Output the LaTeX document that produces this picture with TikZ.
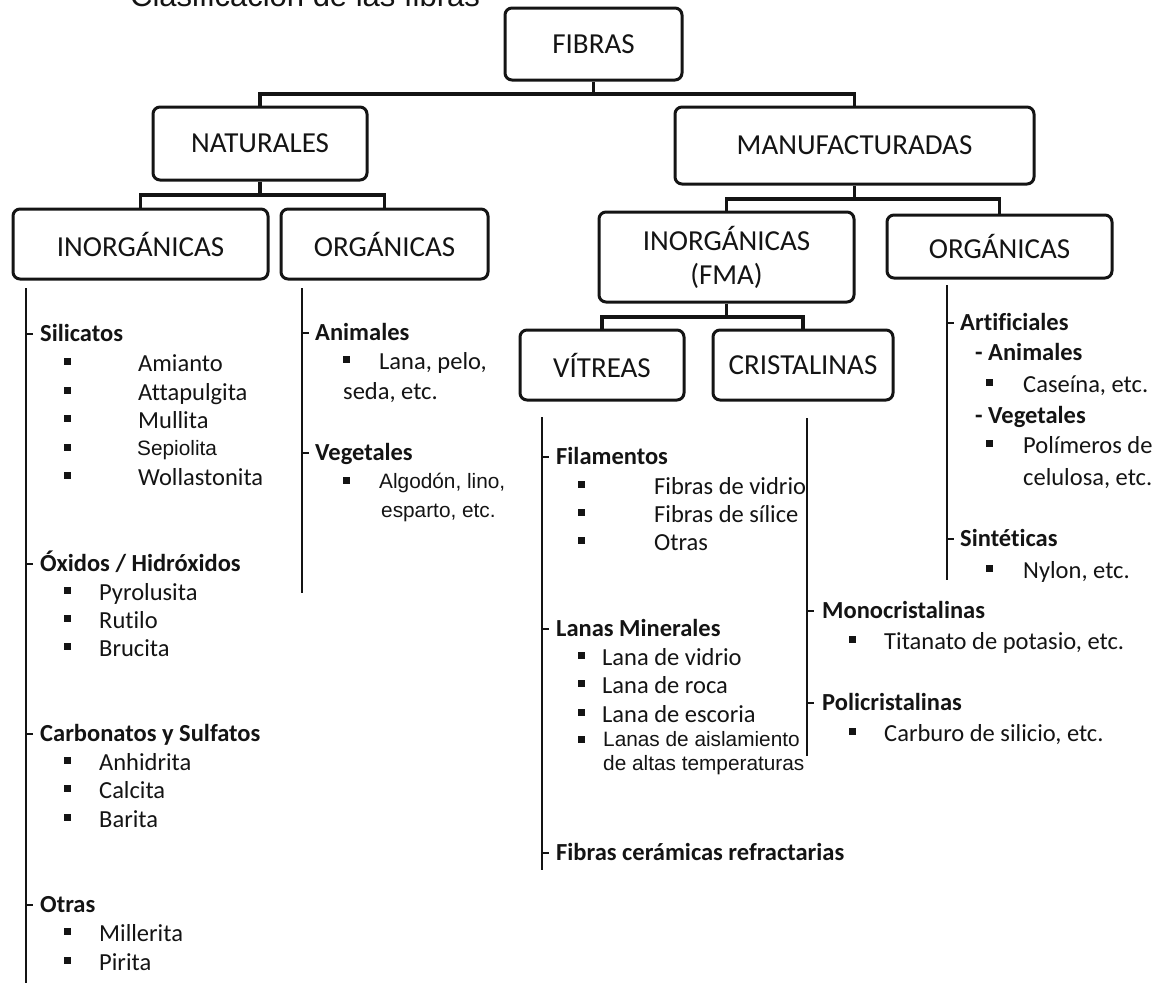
\documentclass[tikz,border=0pt]{standalone}
\usepackage{fontspec}
\setmainfont{Carlito}[Ligatures=CommonOff]
\newfontfamily\arialf{Liberation Sans}[Ligatures=CommonOff]
\definecolor{ink}{HTML}{141414}
\newcommand\boxfont{\fontsize{29}{34}\selectfont}
\newcommand\listfont{\fontsize{24.5}{28}\selectfont}
\newcommand\arialsz{\arialf\fontsize{20.8}{23}\selectfont}
\newcommand\bul[2]{\fill[ink] ({#1-3.5},{#2-13.5}) rectangle ({#1+3.5},{#2-6.5});}
\begin{document}
\begin{tikzpicture}[x=1pt,y=-1pt,
  box/.style={draw=ink, line width=3pt, rounded corners=7pt, align=center, font=\boxfont, text=ink, inner sep=0pt},
  link/.style={draw=ink, line width=3.5pt},
  rail/.style={draw=ink, line width=2pt},
  tick/.style={draw=ink, line width=1.5pt},
  head/.style={anchor=base west, inner sep=0pt, font=\listfont\bfseries, text=ink},
  txt/.style={anchor=base west, inner sep=0pt, font=\listfont, text=ink},
  atxt/.style={anchor=base west, inner sep=0pt, font=\arialsz, text=ink}]
\useasboundingbox (0,0) rectangle (1160,983);
\fill[white] (0,0) rectangle (1160,983);

% title (cut off at top, as in the reference)
\node[anchor=base west, inner sep=0pt, font=\arialf\fontsize{31}{35}\selectfont, text=ink] (title) at (130,6) {Clasificación de las fibras};

% boxes
\node[box, minimum width=177pt, minimum height=72pt] (fibras) at (593.5,44) {FIBRAS};
\node[box, minimum width=214pt, minimum height=73pt] (nat) at (260,143.5) {NATURALES};
\node[box, minimum width=359pt, minimum height=77pt] (man) at (854.5,145.5) {MANUFACTURADAS};
\node[box, minimum width=255pt, minimum height=70pt] (ninorg) at (140.5,244) {INORGÁNICAS};
\node[box, minimum width=207pt, minimum height=70pt] (norg) at (384.5,244) {ORGÁNICAS};
\node[box, minimum width=255pt, minimum height=90pt] (minorg) at (726.5,257) {INORGÁNICAS\\(FMA)};
\node[box, minimum width=225pt, minimum height=63pt] (morg) at (999.5,246.5) {ORGÁNICAS};
\node[box, minimum width=164pt, minimum height=70pt] (vit) at (602,365) {VÍTREAS};
\node[box, minimum width=180pt, minimum height=70pt] (cri) at (803,365) {CRISTALINAS};

% bus levels
\coordinate (b1) at (0,94);
\coordinate (b2) at (0,195);
\coordinate (b3) at (0,199);
\coordinate (b4) at (0,317);

% connectors
\draw[link] (fibras.south) -- (fibras.south |- b1) -| (nat.north);
\draw[link] (fibras.south |- b1) -| (man.north);
\draw[link] (nat.south) -- (nat.south |- b2) -| (ninorg.north);
\draw[link] (nat.south |- b2) -| (norg.north);
\draw[link] (man.south) -- (man.south |- b3) -| (minorg.north);
\draw[link] (man.south |- b3) -| (morg.north);
\draw[link] (minorg.south) -- (minorg.south |- b4) -| (vit.north);
\draw[link] (minorg.south |- b4) -| (cri.north);

% rails
\coordinate (ra) at (26,288);   \coordinate (raE) at (26,990);
\coordinate (rb) at (302,288);  \coordinate (rbE) at (302,593);
\coordinate (rc) at (542,417);  \coordinate (rcE) at (542,870);
\coordinate (rd) at (807,418);  \coordinate (rdE) at (807,756);
\coordinate (re) at (947,285);  \coordinate (reE) at (947,580);
\draw[rail] (ra) -- (raE);
\draw[rail] (rb) -- (rbE);
\draw[rail] (rc) -- (rcE);
\draw[rail] (rd) -- (rdE);
\draw[rail] (re) -- (reE);

% ---- column A: natural inorganic
\foreach \y in {334,564,734,905} \draw[tick] (ra |- 0,\y) -- ++(7,0);
\node[head] (silic) at (40,341) {Silicatos};
\node[txt] (a1) at (138,371) {Amianto};       \bul{67}{371}
\node[txt] (a2) at (138,400) {Attapulgita};   \bul{67}{400}
\node[txt] (a3) at (138,428) {Mullita};       \bul{67}{428}
\node[atxt] (a4) at (137,455) {Sepiolita};    \bul{67}{457}
\node[txt] (a5) at (138,485) {Wollastonita};  \bul{67}{485}
\node[head] (oxid) at (40,571) {Óxidos / Hidróxidos};
\node[txt] (o1) at (99,600) {Pyrolusita};     \bul{67}{600}
\node[txt] (o2) at (99,628) {Rutilo};         \bul{67}{628}
\node[txt] (o3) at (99,656) {Brucita};        \bul{67}{656}
\node[head] (carb) at (40,741) {Carbonatos y Sulfatos};
\node[txt] (c1) at (99,770) {Anhidrita};      \bul{67}{770}
\node[txt] (c2) at (99,798) {Calcita};        \bul{67}{798}
\node[txt] (c3) at (99,827) {Barita};         \bul{67}{827}
\node[head] (otr) at (40,912) {Otras};
\node[txt] (t1) at (99,941) {Millerita};      \bul{67}{941}
\node[txt] (t2) at (99,970) {Pirita};         \bul{67}{970}

% ---- column B: natural organic
\foreach \y in {333,453} \draw[tick] (rb |- 0,\y) -- ++(7,0);
\node[head] (anim) at (315,340) {Animales};
\node[txt] (n1) at (379,369) {Lana, pelo,};   \bul{346}{369}
\node[txt] (n2) at (343,399) {seda, etc.};
\node[head] (veg) at (315,460) {Vegetales};
\node[atxt] (n3) at (379,488) {Algodón, lino,}; \bul{346}{490}
\node[atxt] (n4) at (381,517) {esparto, etc.};

% ---- column C: vitreas
\foreach \y in {457,629,853} \draw[tick] (rc |- 0,\y) -- ++(7,0);
\node[head] (fil) at (556,464) {Filamentos};
\node[txt] (f1) at (654,494) {Fibras de vidrio};  \bul{581}{494}
\node[txt] (f2) at (654,522) {Fibras de sílice};  \bul{581}{522}
\node[txt] (f3) at (654,550) {Otras};             \bul{581}{550}
\node[head] (lan) at (556,636) {Lanas Minerales};
\node[txt] (l1) at (602,665) {Lana de vidrio};    \bul{581}{665}
\node[txt] (l2) at (602,693) {Lana de roca};      \bul{581}{693}
\node[txt] (l3) at (602,722) {Lana de escoria};   \bul{581}{722}
\node[atxt] (l4) at (603,746) {Lanas de aislamiento}; \bul{581}{749}
\node[atxt] (l5) at (603,770) {de altas temperaturas};
\node[head] (fcr) at (556,860) {Fibras cerámicas refractarias};

% ---- column D: cristalinas
\foreach \y in {611,703} \draw[tick] (rd |- 0,\y) -- ++(7,0);
\node[head] (mono) at (822,618) {Monocristalinas};
\node[txt] (m1) at (884,649) {Titanato de potasio, etc.}; \bul{852}{649}
\node[head] (poli) at (822,710) {Policristalinas};
\node[txt] (p1) at (884,741) {Carburo de silicio, etc.};  \bul{852}{741}

% ---- column E: manufactured organic
\foreach \y in {323,539} \draw[tick] (re |- 0,\y) -- ++(7,0);
\node[head] (art) at (960,330) {Artificiales};
\node[head] (anim2) at (975,360) {- Animales};
\node[txt] (e1) at (1023,392) {Caseína, etc.};    \bul{989}{392}
\node[head] (veg2) at (975,423) {- Vegetales};
\node[txt] (e2) at (1023,453) {Polímeros de};     \bul{989}{453}
\node[txt] (e3) at (1023,485) {celulosa, etc.};
\node[head] (sint) at (960,546) {Sintéticas};
\node[txt] (e4) at (1023,578) {Nylon, etc.};      \bul{989}{578}
\end{tikzpicture}
\end{document}
